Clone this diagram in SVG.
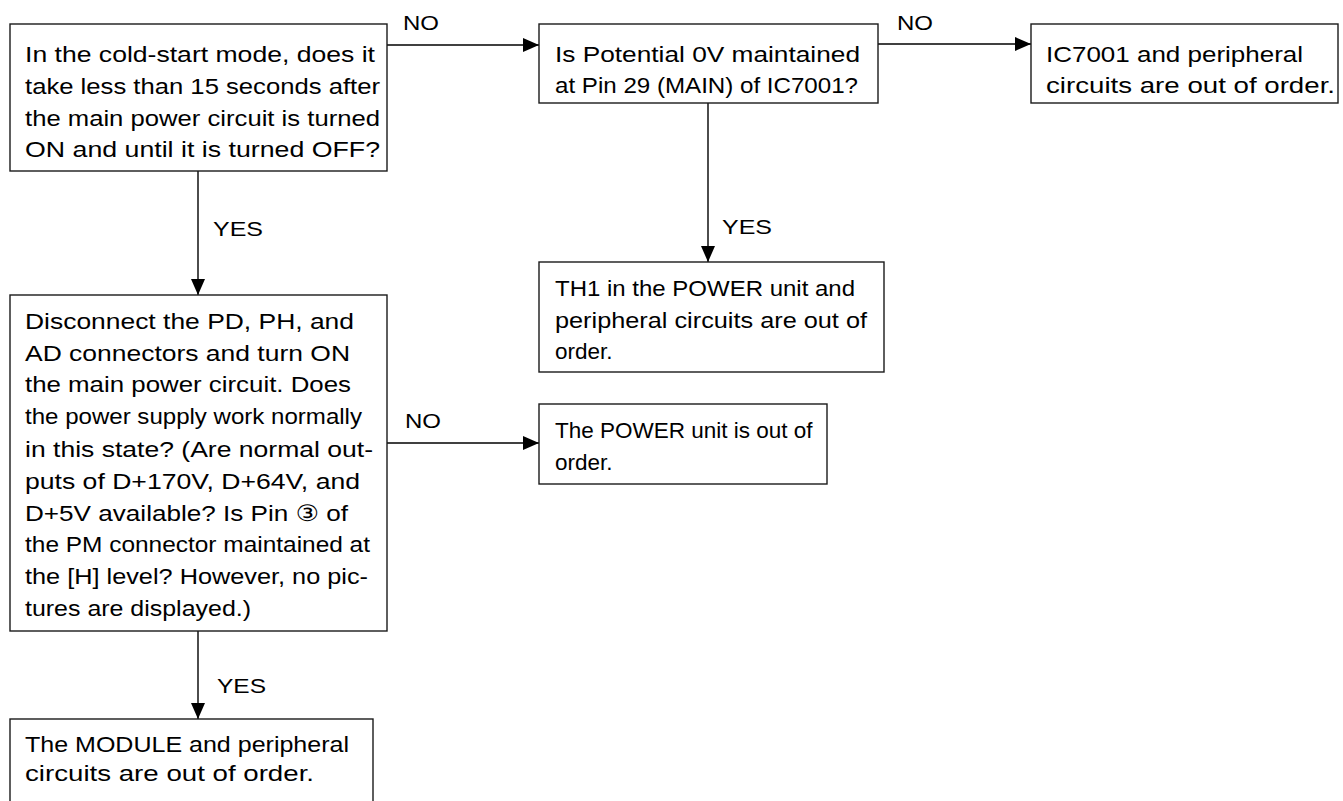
<svg xmlns="http://www.w3.org/2000/svg" width="1343" height="801" viewBox="0 0 1343 801">
  <style>
    .box { fill: #ffffff; stroke: #1a1a1a; stroke-width: 1.4; }
    .txt { font-family: "Liberation Sans", Arial, "DejaVu Sans", "Noto Sans CJK JP", sans-serif; font-size: 22.5px; fill: #000; }
    .lbl { font-family: "Liberation Sans", Arial, sans-serif; font-size: 21px; fill: #000; }
    .wire { fill: none; stroke: #000; stroke-width: 1.4; }
  </style>
  <defs>
    <marker id="arrow" viewBox="0 0 16 14" refX="16" refY="7" markerWidth="16" markerHeight="14" markerUnits="userSpaceOnUse" orient="auto">
      <path d="M0,0 L16,7 L0,14 Z" fill="#000"/>
    </marker>
  </defs>

  <rect width="1343" height="801" fill="#ffffff"/>

  <!-- connectors with their YES / NO labels -->
  <g id="connectors">
    <line class="wire" x1="387" y1="45" x2="539" y2="45" marker-end="url(#arrow)"/>
    <line class="wire" x1="878" y1="44" x2="1031" y2="44" marker-end="url(#arrow)"/>
    <line class="wire" x1="198" y1="171" x2="198" y2="295" marker-end="url(#arrow)"/>
    <line class="wire" x1="708" y1="103" x2="708" y2="262" marker-end="url(#arrow)"/>
    <line class="wire" x1="387" y1="443" x2="539" y2="443" marker-end="url(#arrow)"/>
    <line class="wire" x1="198" y1="631" x2="198" y2="719" marker-end="url(#arrow)"/>
    <text class="lbl" x="403" y="30" textLength="36" lengthAdjust="spacingAndGlyphs">NO</text>
    <text class="lbl" x="897" y="30" textLength="36" lengthAdjust="spacingAndGlyphs">NO</text>
    <text class="lbl" x="405" y="428" textLength="36" lengthAdjust="spacingAndGlyphs">NO</text>
    <text class="lbl" x="213" y="236" textLength="50" lengthAdjust="spacingAndGlyphs">YES</text>
    <text class="lbl" x="722" y="234" textLength="50" lengthAdjust="spacingAndGlyphs">YES</text>
    <text class="lbl" x="217" y="693" textLength="49" lengthAdjust="spacingAndGlyphs">YES</text>
  </g>

  <!-- start question -->
  <g id="q-coldstart">
    <rect class="box" x="10" y="24" width="377" height="147"/>
    <text class="txt" x="25" y="62" textLength="350" lengthAdjust="spacingAndGlyphs">In the cold-start mode, does it</text>
    <text class="txt" x="25" y="94" textLength="355" lengthAdjust="spacingAndGlyphs">take less than 15 seconds after</text>
    <text class="txt" x="25" y="126" textLength="355" lengthAdjust="spacingAndGlyphs">the main power circuit is turned</text>
    <text class="txt" x="25" y="157" textLength="355" lengthAdjust="spacingAndGlyphs">ON and until it is turned OFF?</text>
  </g>

  <g id="q-pin29">
    <rect class="box" x="539" y="24" width="339" height="79"/>
    <text class="txt" x="555" y="62" textLength="305" lengthAdjust="spacingAndGlyphs">Is Potential 0V maintained</text>
    <text class="txt" x="555" y="93" textLength="303" lengthAdjust="spacingAndGlyphs">at Pin 29 (MAIN) of IC7001?</text>
  </g>

  <g id="r-ic7001">
    <rect class="box" x="1031" y="24" width="307" height="79"/>
    <text class="txt" x="1046" y="62" textLength="257" lengthAdjust="spacingAndGlyphs">IC7001 and peripheral</text>
    <text class="txt" x="1046" y="93" textLength="289" lengthAdjust="spacingAndGlyphs">circuits are out of order.</text>
  </g>

  <g id="r-th1">
    <rect class="box" x="539" y="262" width="345" height="110"/>
    <text class="txt" x="555" y="296" textLength="300" lengthAdjust="spacingAndGlyphs">TH1 in the POWER unit and</text>
    <text class="txt" x="555" y="328" textLength="312" lengthAdjust="spacingAndGlyphs">peripheral circuits are out of</text>
    <text class="txt" x="555" y="359">order.</text>
  </g>

  <g id="q-disconnect">
    <rect class="box" x="10" y="295" width="377" height="336"/>
    <text class="txt" x="25" y="329" textLength="329" lengthAdjust="spacingAndGlyphs">Disconnect the PD, PH, and</text>
    <text class="txt" x="25" y="361" textLength="325" lengthAdjust="spacingAndGlyphs">AD connectors and turn ON</text>
    <text class="txt" x="25" y="392" textLength="326" lengthAdjust="spacingAndGlyphs">the main power circuit. Does</text>
    <text class="txt" x="25" y="424" textLength="337" lengthAdjust="spacingAndGlyphs">the power supply work normally</text>
    <text class="txt" x="25" y="457" textLength="348" lengthAdjust="spacingAndGlyphs">in this state? (Are normal out-</text>
    <text class="txt" x="25" y="489" textLength="335" lengthAdjust="spacingAndGlyphs">puts of D+170V, D+64V, and</text>
    <text class="txt" x="25" y="521" textLength="323" lengthAdjust="spacingAndGlyphs">D+5V available? Is Pin ③ of</text>
    <text class="txt" x="25" y="552" textLength="345" lengthAdjust="spacingAndGlyphs">the PM connector maintained at</text>
    <text class="txt" x="25" y="584" textLength="343" lengthAdjust="spacingAndGlyphs">the [H] level? However, no pic-</text>
    <text class="txt" x="25" y="616" textLength="226" lengthAdjust="spacingAndGlyphs">tures are displayed.)</text>
  </g>

  <g id="r-power">
    <rect class="box" x="539" y="404" width="288" height="80"/>
    <text class="txt" x="555" y="438">The POWER unit is out of</text>
    <text class="txt" x="555" y="470">order.</text>
  </g>

  <g id="r-module">
    <rect class="box" x="10" y="719" width="363" height="110"/>
    <text class="txt" x="25" y="752" textLength="324" lengthAdjust="spacingAndGlyphs">The MODULE and peripheral</text>
    <text class="txt" x="25" y="781" textLength="289" lengthAdjust="spacingAndGlyphs">circuits are out of order.</text>
  </g>
</svg>
